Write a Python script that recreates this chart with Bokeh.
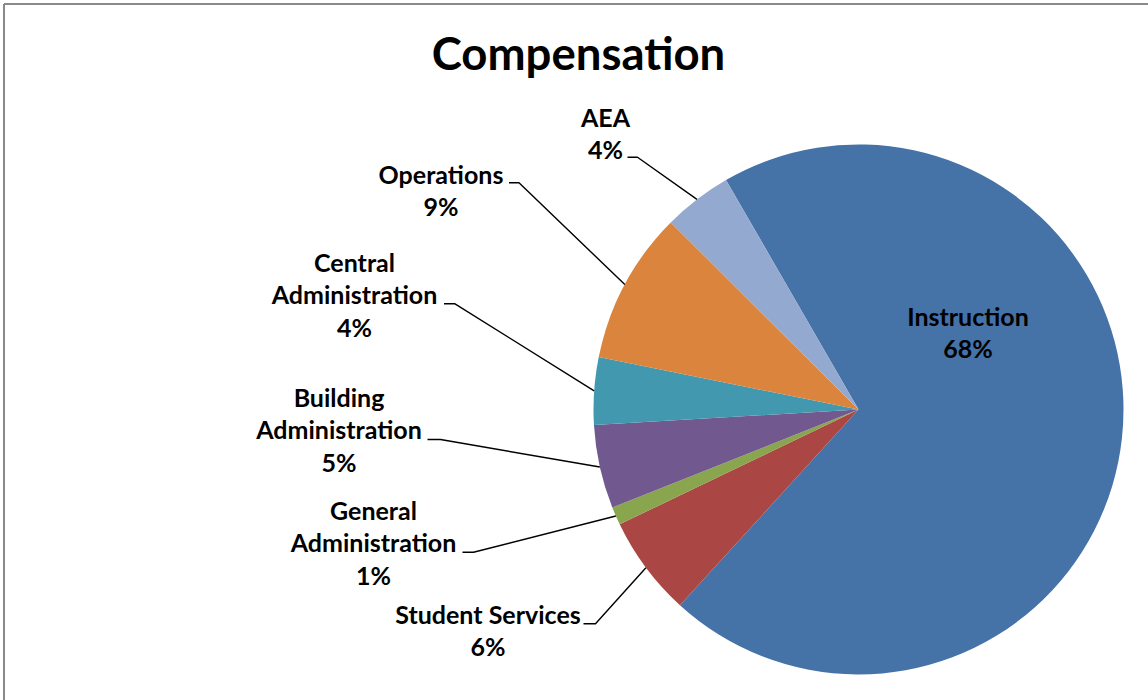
import math
from bokeh.plotting import figure
from bokeh.models import Range1d, ColumnDataSource
from bokeh.core.properties import value
from bokeh.embed import file_html
from bokeh.resources import INLINE

# ---- data ----
categories = ["Instruction", "Student Services", "General Administration",
              "Building Administration", "Central Administration", "Operations", "AEA"]
values = [70.1, 6.1, 1.1, 5.1, 4.1, 9.3, 4.2]
pct_labels = ["68%", "6%", "1%", "5%", "4%", "9%", "4%"]
colors = ["#4572A7", "#AA4643", "#89A54E", "#71588F", "#4198AF", "#DB843D", "#93A9CF"]
title_text = "Compensation"

# ---- layout (screen pixels, y downward) ----
W, H = 1148, 700
CX, CY, R = 858, 409, 265
FIRST_SLICE_ANGLE = 330.0  # degrees clockwise from 12 o'clock
LINE_STEP = 32.4
FONT = "Lato"
LABEL_SIZE = 25.0
TITLE_SIZE = 45.5
BASE_FIX = 0.39  # em offset to place glyph baseline where intended

# label layout: category -> (lines, center x, first baseline y, leader anchor (x0, x1, y) or None)
label_layout = {
    "Instruction": (["Instruction"], 967.5, 325.0, None),
    "Student Services": (["Student Services"], 487.5, 623.3, (583.0, 595.0, 623.3)),
    "General Administration": (["General", "Administration"], 373.0, 519.3, (462.0, 473.0, 551.7)),
    "Building Administration": (["Building", "Administration"], 338.5, 406.0, (427.0, 440.0, 439.0)),
    "Central Administration": (["Central", "Administration"], 354.0, 271.0, (443.5, 454.5, 303.3)),
    "Operations": (["Operations"], 440.5, 183.3, (508.5, 518.5, 182.3)),
    "AEA": (["AEA"], 605.0, 126.0, (627.0, 637.0, 156.7)),
}


def sy(y):
    return H - y


p = figure(width=W, height=H, x_range=Range1d(0, W), y_range=Range1d(0, H),
           output_backend="svg", toolbar_location=None,
           x_axis_location=None, y_axis_location=None, min_border=0)
p.grid.visible = False
p.outline_line_color = None
p.background_fill_color = "white"
p.border_fill_color = "white"

# ---- wedges ----
total = sum(values)
theta = FIRST_SLICE_ANGLE
starts, ends, mids = [], [], []
for v in values:
    span = v / total * 360.0
    a0, a1 = theta, theta + span
    starts.append(math.radians(90 - a1))
    ends.append(math.radians(90 - a0))
    mids.append((a0 + a1) / 2.0)
    theta = a1

src = ColumnDataSource(dict(start=starts, end=ends, color=colors, cat=categories))
p.wedge(x=CX, y=sy(CY), radius=R, start_angle="start", end_angle="end",
        direction="anticlock", fill_color="color", line_color=None, source=src)

# ---- leader lines ----
lx, ly = [], []
for cat, mid in zip(categories, mids):
    lines, tx, ty, anchor = label_layout[cat]
    if anchor is None:
        continue
    ex = CX + R * math.sin(math.radians(mid))
    ey = CY - R * math.cos(math.radians(mid))
    x0, x1, yy = anchor
    lx.append([x0, x1, ex])
    ly.append([sy(yy), sy(yy), sy(ey)])
p.multi_line(xs=lx, ys=ly, line_color="black", line_width=1.4)

# ---- labels ----
tx_list, ty_list, tt_list = [], [], []
for cat, pct in zip(categories, pct_labels):
    lines, tx, ty, anchor = label_layout[cat]
    for i, t in enumerate(lines + [pct]):
        tx_list.append(tx)
        ty_list.append(sy(ty + i * LINE_STEP - BASE_FIX * LABEL_SIZE))
        tt_list.append(t)
p.text(x=tx_list, y=ty_list, text=tt_list, text_align="center",
       text_baseline="alphabetic", text_font=value(FONT), text_font_style="bold",
       text_font_size=f"{LABEL_SIZE}px", text_color="black")

# ---- title ----
p.text(x=[578.0], y=[sy(70.0 - BASE_FIX * TITLE_SIZE)], text=[title_text], text_align="center",
       text_baseline="alphabetic", text_font=value(FONT), text_font_style="bold",
       text_font_size=f"{TITLE_SIZE}px", text_color="black")

# ---- chart frame ----
p.multi_line(xs=[[3.5, W + 5], [3.5, 3.5]], ys=[[sy(3.5), sy(3.5)], [sy(3.5), -5]],
             line_color="#8a8a8a", line_width=2)

open("out.html", "w").write(file_html(p, INLINE))
